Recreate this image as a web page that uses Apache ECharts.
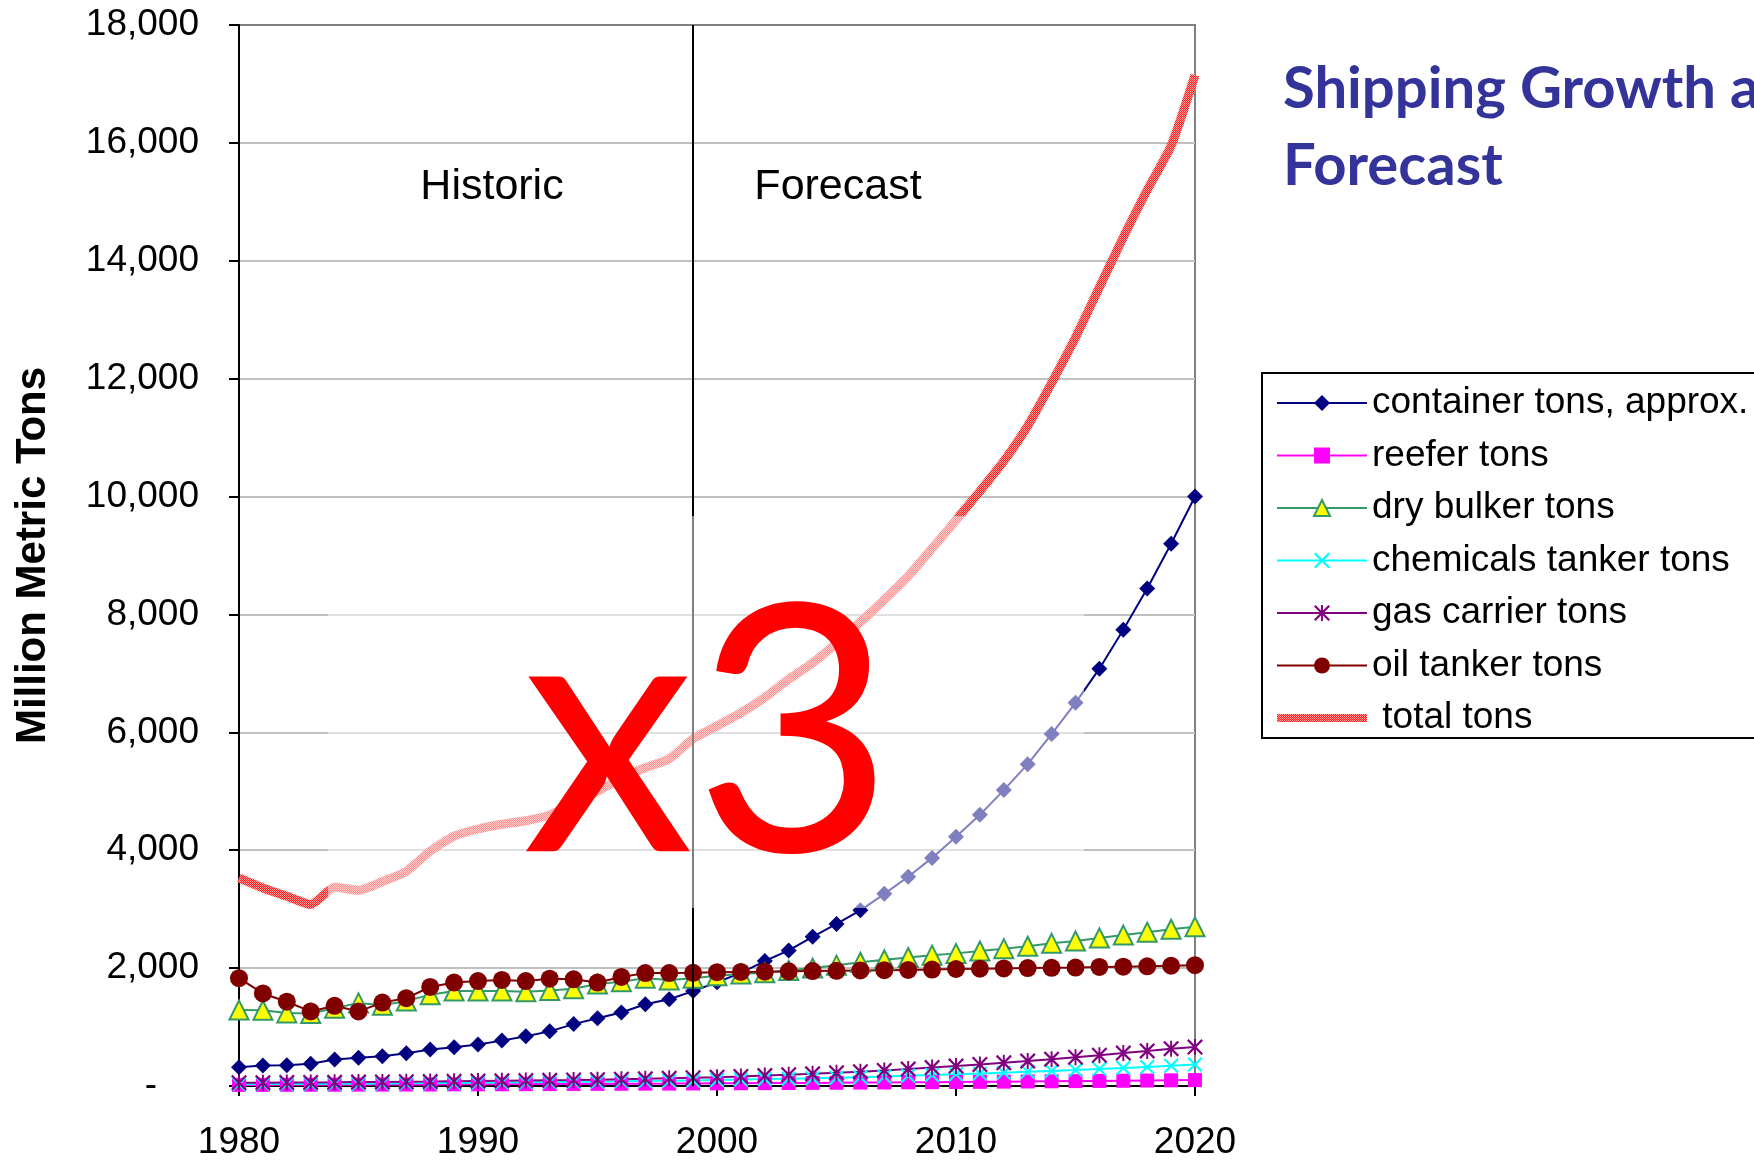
<!DOCTYPE html>
<html>
<head>
<meta charset="utf-8">
<script src="https://cdn.jsdelivr.net/npm/echarts@6/dist/echarts.min.js"></script>
<style>
  html, body { margin: 0; padding: 0; background: #fff; }
  #chart { width: 1754px; height: 1162px; }
</style>
</head>
<body>
<div id="chart"></div>
<script>
// Years on the horizontal axis
const years = [1980, 1981, 1982, 1983, 1984, 1985, 1986, 1987, 1988, 1989,
               1990, 1991, 1992, 1993, 1994, 1995, 1996, 1997, 1998, 1999,
               2000, 2001, 2002, 2003, 2004, 2005, 2006, 2007, 2008, 2009,
               2010, 2011, 2012, 2013, 2014, 2015, 2016, 2017, 2018, 2019, 2020];

// Million metric tons per ship type
const containerTons = [320, 348, 350, 378, 450, 478, 506, 556, 618, 657,
                       705, 770, 843, 927, 1050, 1150, 1247, 1388, 1472, 1610,
                       1760, 1920, 2120, 2300, 2530, 2750, 2980, 3260, 3550, 3870,
                       4230, 4600, 5020, 5460, 5970, 6500, 7080, 7740, 8440, 9200, 10000];
const reeferTons = [18, 19, 20, 21, 22, 23, 24, 25, 26, 28,
                    29, 30, 32, 33, 35, 36, 38, 40, 41, 43,
                    45, 47, 49, 51, 53, 55, 58, 60, 63, 65,
                    68, 71, 74, 77, 80, 83, 86, 89, 93, 96, 100];
const dryBulkerTons = [1290, 1285, 1240, 1230, 1320, 1410, 1370, 1440, 1550, 1610,
                       1610, 1610, 1600, 1620, 1650, 1730, 1770, 1830, 1800, 1830,
                       1870, 1900, 1920, 1960, 2000, 2050, 2100, 2140, 2180, 2220,
                       2250, 2290, 2330, 2370, 2420, 2460, 2510, 2560, 2610, 2660, 2700];
const chemicalsTankerTons = [30, 32, 34, 36, 38, 40, 43, 46, 49, 52,
                             55, 58, 62, 66, 70, 74, 79, 84, 89, 95,
                             102, 110, 117, 124, 132, 140, 150, 160, 172, 185,
                             198, 212, 226, 240, 255, 270, 287, 305, 323, 342, 365];
const gasCarrierTons = [55, 57, 59, 61, 63, 66, 69, 72, 75, 79,
                        83, 87, 92, 97, 102, 108, 115, 122, 130, 140,
                        150, 163, 177, 191, 207, 224, 243, 264, 287, 312,
                        338, 365, 393, 423, 455, 488, 522, 558, 595, 633, 660];
const oilTankerTons = [1830, 1570, 1430, 1265, 1360, 1265, 1415, 1490, 1680, 1755,
                       1780, 1800, 1780, 1820, 1810, 1755, 1850, 1915, 1915, 1920,
                       1930, 1935, 1940, 1945, 1950, 1955, 1960, 1965, 1970, 1975,
                       1985, 1990, 1995, 2000, 2005, 2010, 2020, 2025, 2030, 2040, 2050];
const totalTons = [3530, 3360, 3220, 3080, 3370, 3320, 3470, 3640, 3985, 4240,
                   4360, 4440, 4500, 4600, 4800, 5000, 5230, 5400, 5550, 5890,
                   6110, 6330, 6590, 6900, 7180, 7510, 7870, 8250, 8650, 9120,
                   9600, 10090, 10600, 11200, 11930, 12700, 13550, 14400, 15200, 15950, 17150];

// Year separating the historic record from the forecast
const dividerYear = 1999;

// Axis settings
const yMin = 0, yMax = 18000, yStep = 2000;
const xMin = 1980, xMax = 2020, xStep = 10;

const FONT = '"Liberation Sans", Arial, sans-serif';
const TITLE_FONT = 'Lato, "Open Sans", sans-serif';

// Marker shapes: a thin "x" and an asterisk (x with a vertical bar)
const X_MARK = 'path://M0,1L1,0L5,4L9,0L10,1L6,5L10,9L9,10L5,6L1,10L0,9L4,5Z';
const STAR_MARK = 'path://M0,1L1,0L5,4L9,0L10,1L6,5L10,9L9,10L5,6L1,10L0,9L4,5Z M4.4,0L5.6,0L5.6,10L4.4,10Z';
// Thick bar used as the legend key of the total line
const BAR_ICON = 'path://M0,0M0,20M0,6L90,6L90,14L0,14Z';

// Dithered red texture for the total line
function checkerPattern() {
  const c = document.createElement('canvas');
  c.width = 2; c.height = 2;
  const g = c.getContext('2d');
  g.fillStyle = '#FFA3A3'; g.fillRect(0, 0, 2, 2);
  g.fillStyle = '#FF1C1C'; g.fillRect(0, 0, 1, 1); g.fillRect(1, 1, 1, 1);
  return { image: c, repeat: 'repeat' };
}
const totalFill = checkerPattern();

function pairs(values) {
  return years.map((y, i) => [y, values[i]]);
}

function markerSeries(name, values, symbol, size, lineColor, fill, extra) {
  return Object.assign({
    name: name,
    type: 'line',
    data: pairs(values),
    symbol: symbol,
    symbolSize: size,
    showSymbol: true,
    lineStyle: { color: lineColor, width: 2 },
    itemStyle: { color: fill },
    emphasis: { disabled: true },
    animation: false
  }, extra || {});
}

const series = [
  markerSeries('container tons, approx.', containerTons, 'diamond', 16, '#000080', '#000080', {
    markLine: {
      silent: true,
      symbol: 'none',
      label: { show: false },
      lineStyle: { color: '#000000', width: 2, type: 'solid' },
      data: [{ xAxis: dividerYear }],
      animation: false
    }
  }),
  markerSeries('reefer tons', reeferTons, 'rect', 14, '#FF00FF', '#FF00FF'),
  markerSeries('dry bulker tons', dryBulkerTons, 'triangle', 19, '#339966', '#FFFF00', {
    itemStyle: { color: '#FFFF00', borderColor: '#339966', borderWidth: 2 }
  }),
  markerSeries('chemicals tanker tons', chemicalsTankerTons, X_MARK, 15, '#00FFFF', '#00FFFF'),
  markerSeries('gas carrier tons', gasCarrierTons, STAR_MARK, 16, '#800080', '#800080'),
  markerSeries('oil tanker tons', oilTankerTons, 'circle', 18, '#800000', '#800000'),
  {
    name: 'total tons',
    type: 'line',
    data: pairs(totalTons),
    symbol: 'none',
    showSymbol: false,
    smooth: 0.2,
    lineStyle: { color: totalFill, width: 9 },
    itemStyle: { color: totalFill },
    emphasis: { disabled: true },
    animation: false
  }
];

const legendData = series.map(s => s.name === 'total tons'
  ? { name: s.name, icon: BAR_ICON }
  : { name: s.name });

const option = {
  backgroundColor: '#ffffff',
  animation: false,
  textStyle: { fontFamily: FONT },
  grid: {
    left: 239, right: 559, top: 25, bottom: 71,
    show: true,
    borderColor: '#808080',
    borderWidth: 2,
    backgroundColor: 'transparent'
  },
  xAxis: {
    type: 'value',
    min: xMin, max: xMax, interval: xStep,
    axisLine: { show: true, onZero: false, lineStyle: { color: '#000000', width: 2 } },
    axisTick: { show: true, length: 10, lineStyle: { color: '#000000', width: 2 } },
    axisLabel: {
      fontSize: 37, color: '#000000', fontFamily: FONT, margin: 38, lineHeight: 38,
      formatter: v => String(v)
    },
    splitLine: { show: false }
  },
  yAxis: {
    type: 'value',
    min: yMin, max: yMax, interval: yStep,
    name: 'Million Metric Tons',
    nameLocation: 'middle',
    nameGap: 185,
    nameRotate: 90,
    nameTextStyle: { fontSize: 42, fontWeight: 'bold', color: '#000000', fontFamily: FONT },
    axisLine: { show: true, lineStyle: { color: '#000000', width: 2 } },
    axisTick: { show: true, length: 10, lineStyle: { color: '#000000', width: 2 } },
    axisLabel: {
      fontSize: 37, color: '#000000', fontFamily: FONT, margin: 40,
      formatter: v => v === 0 ? '{z|-}' : v.toLocaleString('en-US'),
      rich: { z: { fontSize: 37, fontFamily: FONT, color: '#000000', padding: [0, 42, 0, 0] } }
    },
    splitLine: {
      show: true, showMinLine: false, showMaxLine: false,
      lineStyle: { color: '#C0C0C0', width: 2 }
    }
  },
  legend: {
    orient: 'vertical',
    left: 1262, top: 373,
    padding: [10, 40, 0, 14],
    itemGap: 12.5,
    itemWidth: 90,
    itemHeight: 20,
    selectedMode: false,
    borderColor: '#000000',
    borderWidth: 2,
    backgroundColor: '#ffffff',
    textStyle: { fontSize: 37, color: '#000000', fontFamily: FONT, lineHeight: 40 },
    formatter: name => name === 'total tons' ? ' ' + name : name,
    data: legendData
  },
  graphic: [
    {
      type: 'text', x: 492, y: 187, z: 50,
      style: { text: 'Historic', font: '43px ' + FONT, fill: '#000000',
               align: 'center', verticalAlign: 'middle', textAlign: 'center', textVerticalAlign: 'middle' }
    },
    {
      type: 'text', x: 838, y: 187, z: 50,
      style: { text: 'Forecast', font: '43px ' + FONT, fill: '#000000',
               align: 'center', verticalAlign: 'middle', textAlign: 'center', textVerticalAlign: 'middle' }
    },
    {
      type: 'text', x: 1283, y: 89, z: 50,
      style: { text: 'Shipping Growth and', font: 'bold 58px ' + TITLE_FONT, fill: '#333399',
               align: 'left', verticalAlign: 'middle', textAlign: 'left', textVerticalAlign: 'middle' }
    },
    {
      type: 'text', x: 1283, y: 166, z: 50,
      style: { text: 'Forecast', font: 'bold 58px ' + TITLE_FONT, fill: '#333399',
               align: 'left', verticalAlign: 'middle', textAlign: 'left', textVerticalAlign: 'middle' }
    },
    // translucent backing box of the "x3" callout
    {
      type: 'rect', z: 100,
      shape: { x: 328, y: 516, width: 756, height: 392 },
      style: { fill: 'rgba(255,255,255,0.5)' }
    },
    {
      type: 'text', x: 522, y: 740, z: 101,
      style: { text: 'x3', font: '345px ' + TITLE_FONT, fill: '#FF0000',
               align: 'left', verticalAlign: 'middle', textAlign: 'left', textVerticalAlign: 'middle' }
    }
  ],
  series: series
};

const chart = echarts.init(document.getElementById('chart'), null, { renderer: 'canvas' });
chart.setOption(option);
</script>
</body>
</html>
